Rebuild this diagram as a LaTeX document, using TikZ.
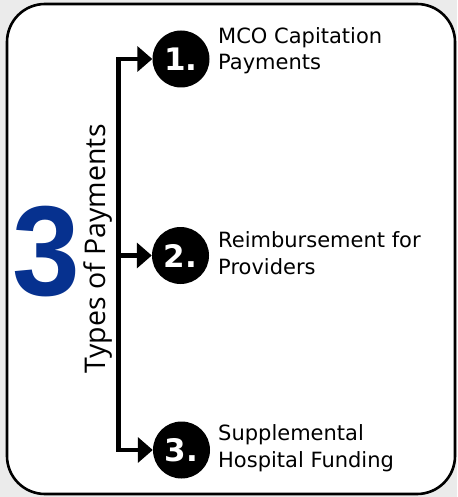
\documentclass[tikz,border=0pt]{standalone}
\usepackage{fontspec}
\setmainfont{DejaVu Sans}
\newfontfamily\opensans{Open Sans}
\newfontfamily\bignum{Liberation Sans}
\usetikzlibrary{arrows.meta}
\definecolor{bggray}{HTML}{EBEBEB}
\definecolor{bigblue}{HTML}{06318F}
\tikzset{
  numcirc/.style={circle, fill=black, minimum size=57pt, inner sep=0pt,
    text=white, font=\fontsize{31}{31}\selectfont\bfseries},
  lbl/.style={anchor=base west, align=left, inner sep=0pt,
    font=\fontsize{21}{26.5}\selectfont},
  conn/.style={line width=4.5pt},
  arr/.style={conn, -{Triangle[length=15pt,width=25pt]}}
}
\begin{document}
\begin{tikzpicture}[x=1pt,y=-1pt]
\fill[bggray] (0,0) rectangle (457,497);
\useasboundingbox (0,0) rectangle (457,497);
\draw[line width=2.6pt, fill=white, rounded corners=38pt] (7,4) rectangle (455,494);

\node[numcirc] (n1) at (181,59) {1.};
\node[numcirc] (n2) at (180.5,255.5) {2.};
\node[numcirc] (n3) at (181.5,450) {3.};

\coordinate (mid) at (118.5,255.5);
\draw[arr] (mid) |- (n1.west);
\draw[arr] (mid) |- (n3.west);
\draw[arr] (mid) -- (n2.west);

\node[lbl] (t1) at (218,70) {MCO Capitation\\Payments};
\node[lbl] (t2) at (218,274) {Reimbursement for\\Providers};
\node[lbl] (t3) at (218,467) {Supplemental\\Hospital Funding};

\node[rotate=90, anchor=base, inner sep=0pt, font=\opensans\fontsize{28.5}{28.5}\selectfont] (types) at (105,249) {Types of Payments};
\node[anchor=base, inner sep=0pt, text=bigblue, font=\bignum\bfseries\fontsize{128}{128}\selectfont] (three) at (46.5,295) {\scalebox{0.95}[1]{3}};
\end{tikzpicture}
\end{document}
